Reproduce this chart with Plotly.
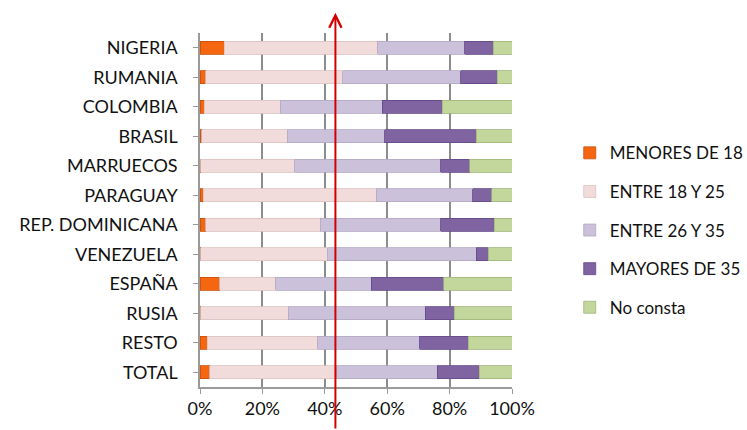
import plotly.graph_objects as go

paises = ["NIGERIA", "RUMANIA", "COLOMBIA", "BRASIL", "MARRUECOS", "PARAGUAY",
          "REP. DOMINICANA", "VENEZUELA", "ESPAÑA", "RUSIA", "RESTO", "TOTAL"]

menores_18 = [7.7, 1.8, 1.3, 0.5, 0.3, 1.0, 1.8, 0.3, 6.3, 0.2, 2.4, 3.1]
entre_18_25 = [49.3, 44.0, 24.4, 27.4, 30.0, 55.5, 36.7, 40.6, 18.0, 28.1, 35.3, 40.5]
entre_26_35 = [27.9, 37.7, 32.7, 31.3, 46.9, 30.9, 38.7, 47.7, 30.6, 43.9, 32.7, 32.5]
mayores_35 = [9.1, 11.8, 19.3, 29.4, 9.3, 6.1, 17.1, 3.8, 23.2, 9.3, 15.6, 13.4]
no_consta = [6.0, 4.7, 22.3, 11.4, 13.5, 6.5, 5.7, 7.6, 21.9, 18.5, 14.0, 10.5]

series_names = ["MENORES DE 18", "ENTRE 18 Y 25", "ENTRE 26 Y 35", "MAYORES DE 35", "No consta"]
series_vals = [menores_18, entre_18_25, entre_26_35, mayores_35, no_consta]
colors = ["#f4660f", "#f2dcdb", "#ccc1da", "#8064a2", "#c3d69b"]
edge_colors = ["#c9500a", "#d9c2c1", "#b3a8c2", "#63498a", "#9fb57a"]

linea_roja = 43.4
x_ticks = [0, 20, 40, 60, 80, 100]
x_tick_text = ["0%", "20%", "40%", "60%", "80%", "100%"]

fig = go.Figure()
for name, vals, c, ec in zip(series_names, series_vals, colors, edge_colors):
    fig.add_trace(go.Bar(
        y=paises, x=vals, name=name, orientation="h",
        marker=dict(color=c, line=dict(color=ec, width=0.8)),
        legendgroup=name,
    ))

fig.add_annotation(
    x=linea_roja, y=1.057, xref="x", yref="paper",
    ax=0, ay=420, axref="pixel", ayref="pixel",
    showarrow=True, arrowhead=5, arrowsize=1.2, arrowwidth=2,
    arrowcolor="#d40000", text="",
)

fig.update_layout(
    width=747, height=430,
    margin=dict(l=200, r=235, t=33, b=43, autoexpand=False),
    paper_bgcolor="white", plot_bgcolor="white",
    barmode="stack", bargap=0.55,
    font=dict(family="Lato, Open Sans, sans-serif", size=18, color="#111111"),
    showlegend=True,
    legend=dict(
        x=1.185, y=0.711, xanchor="left", yanchor="top",
        traceorder="grouped", tracegroupgap=13.5,
        font=dict(size=17, color="#111111"),
        bgcolor="rgba(0,0,0,0)",
    ),
    xaxis=dict(
        range=[0, 100], tickvals=x_ticks, ticktext=x_tick_text,
        showgrid=True, gridcolor="#8c8c8c", gridwidth=1.5,
        showline=True, linecolor="#9a9a9a", linewidth=1.5,
        ticks="outside", ticklen=5, tickcolor="#9a9a9a",
        zeroline=False, fixedrange=True, automargin=False,
        tickfont=dict(size=18),
    ),
    yaxis=dict(
        categoryorder="array", categoryarray=paises, autorange="reversed",
        showline=True, linecolor="#9a9a9a", linewidth=1.5,
        ticks="outside", ticklen=5, tickcolor="#9a9a9a",
        ticklabelstandoff=12, showgrid=False, automargin=False,
        tickfont=dict(size=18),
    ),
)

fig.write_html("out.html", config={"displayModeBar": False},
               post_script="document.body.style.margin='0';")
